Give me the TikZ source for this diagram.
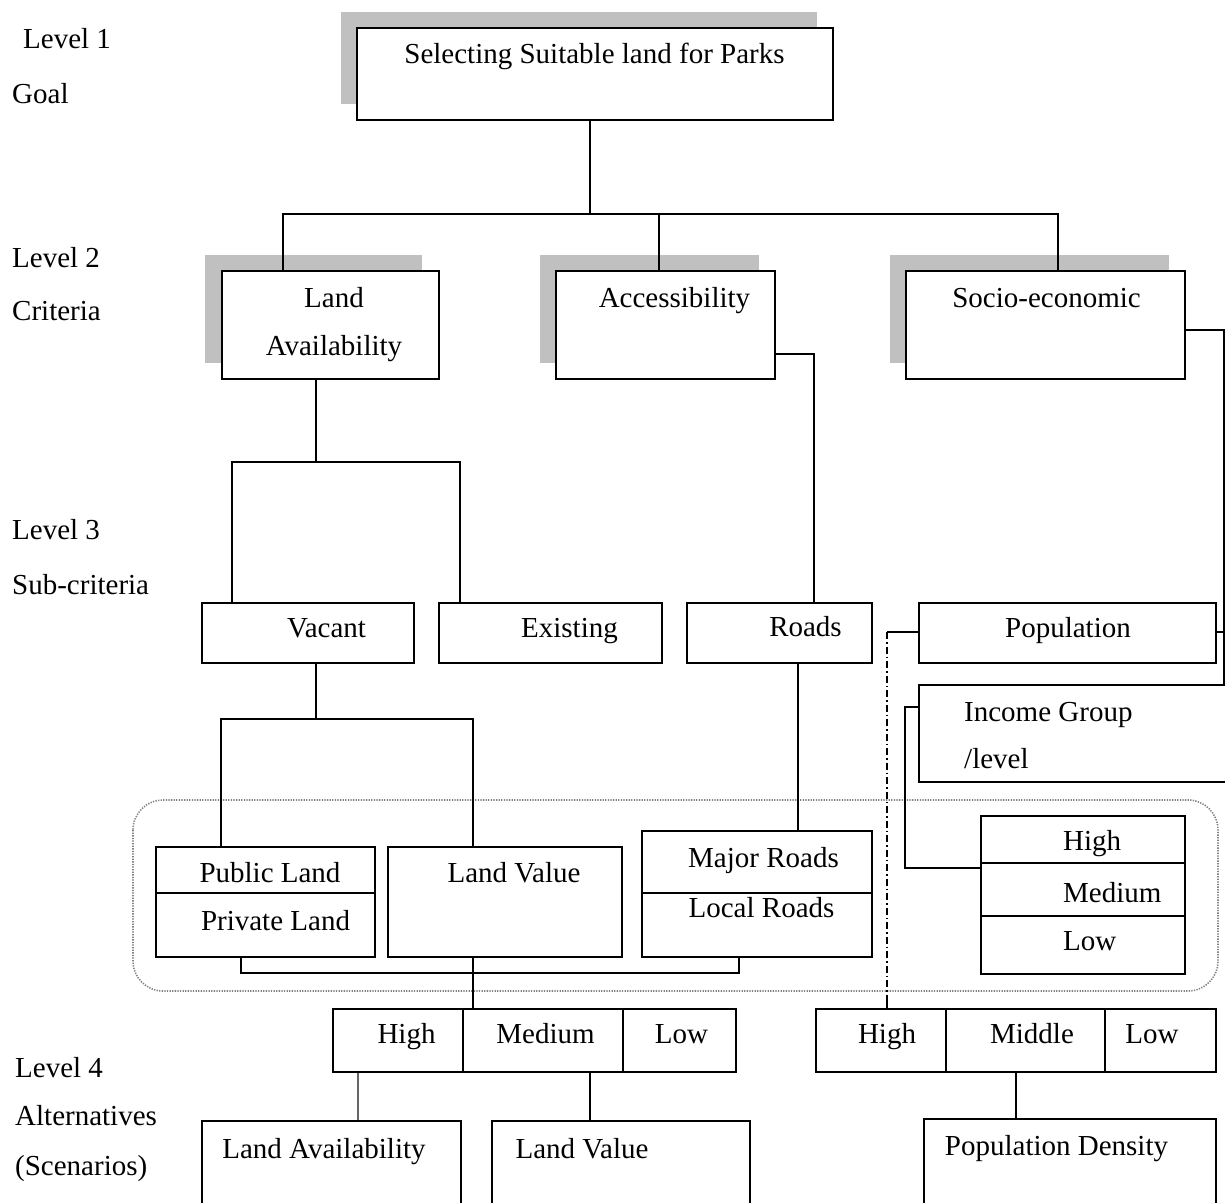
\documentclass[tikz,border=0pt]{standalone}
\usepackage{fontspec}
\setmainfont{Liberation Serif}
\definecolor{shadowgray}{RGB}{192,192,192}
\definecolor{dotgray}{RGB}{130,130,130}
\begin{document}
\begin{tikzpicture}[x=1pt,y=-1pt,
  box/.style={draw, line width=1.8pt, fill=white, inner sep=0pt, anchor=north west},
  txt/.style={font=\fontsize{29}{34}\selectfont, inner sep=0pt, anchor=base},
  ltxt/.style={font=\fontsize{29}{34}\selectfont, inner sep=0pt, anchor=base west},
  conn/.style={line width=1.8pt},
  shd/.style={fill=shadowgray}]
\useasboundingbox (0,0) rectangle (1225,1202);

% left level labels
\node[ltxt] (lv1) at (23,48) {Level 1};
\node[ltxt] (lg) at (12,103) {Goal};
\node[ltxt] (lv2) at (12,267) {Level 2};
\node[ltxt] (lc) at (12,320) {Criteria};
\node[ltxt] (lv3) at (12,539) {Level 3};
\node[ltxt] (lsc) at (12,594) {Sub-criteria};
\node[ltxt] (lv4) at (15,1077) {Level 4};
\node[ltxt] (lal) at (15,1125) {Alternatives};
\node[ltxt] (lsn) at (15,1175) {(Scenarios)};

% dotted group frame
\draw[dotgray, line width=1.6pt, dash pattern=on 1.3pt off 1.3pt, rounded corners=30pt] (133,800) rectangle (1218,991);

% shadows
\fill[shd] (341,12) rectangle ++(476,92);
\fill[shd] (205,255) rectangle ++(217,108);
\fill[shd] (540,255) rectangle ++(219,108);
\fill[shd] (890,255) rectangle ++(279,108);

% level 1 and 2 boxes
\node[box, minimum width=476pt, minimum height=92pt] (goal) at (356,27) {};
\node[box, minimum width=217pt, minimum height=108pt] (la) at (221,270) {};
\node[box, minimum width=219pt, minimum height=108pt] (acc) at (555,270) {};
\node[box, minimum width=279pt, minimum height=108pt] (se) at (905,270) {};

% level 3 boxes
\node[box, minimum width=212pt, minimum height=60pt] (vac) at (201,602) {};
\node[box, minimum width=223pt, minimum height=60pt] (ex) at (438,602) {};
\node[box, minimum width=185pt, minimum height=60pt] (roads) at (686,602) {};
\node[box, minimum width=297pt, minimum height=60pt] (pop) at (918,602) {};
\node[box, minimum width=330pt, minimum height=97pt] (ig) at (918,684) {};

% grouped boxes
\node[box, minimum width=219pt, minimum height=46pt] (pub) at (155,846) {};
\node[box, minimum width=219pt, minimum height=64pt] (priv) at (155,892) {};
\node[box, minimum width=234pt, minimum height=110pt] (lval) at (387,846) {};
\node[box, minimum width=230pt, minimum height=62pt] (major) at (641,830) {};
\node[box, minimum width=230pt, minimum height=64pt] (local) at (641,892) {};
\node[box, minimum width=204pt, minimum height=47pt] (ihigh) at (980,815) {};
\node[box, minimum width=204pt, minimum height=53pt] (imed) at (980,862) {};
\node[box, minimum width=204pt, minimum height=58pt] (ilow) at (980,915) {};

% level 4 boxes
\node[box, minimum width=130pt, minimum height=63pt] (lhigh) at (332,1008) {};
\node[box, minimum width=160pt, minimum height=63pt] (lmed) at (462,1008) {};
\node[box, minimum width=113pt, minimum height=63pt] (llow) at (622,1008) {};
\node[box, minimum width=130pt, minimum height=63pt] (rhigh) at (815,1008) {};
\node[box, minimum width=159pt, minimum height=63pt] (rmid) at (945,1008) {};
\node[box, minimum width=111pt, minimum height=63pt] (rlow) at (1104,1008) {};
\node[box, minimum width=259pt, minimum height=110pt] (bla) at (201,1120) {};
\node[box, minimum width=258pt, minimum height=110pt] (blv) at (491,1120) {};
\node[box, minimum width=292pt, minimum height=112pt] (bpd) at (923,1118) {};

% texts
\node[txt] (tgoal) at (594.5,63) {Selecting Suitable land for Parks};
\node[txt] (tla1) at (334,307) {Land};
\node[txt] (tla2) at (334,355) {Availability};
\node[txt] (tacc) at (674.5,307) {Accessibility};
\node[txt] (tse) at (1046.5,307) {Socio-economic};
\node[txt] (tvac) at (326.5,637) {Vacant};
\node[txt] (tex) at (569.5,637) {Existing};
\node[txt] (troads) at (805.5,636) {Roads};
\node[txt] (tpop) at (1068,637) {Population};
\node[ltxt] (tig1) at (964,721) {Income Group};
\node[ltxt] (tig2) at (964,768) {/level};
\node[ltxt] (tih) at (1063,850) {High};
\node[ltxt] (tim) at (1063,902) {Medium};
\node[ltxt] (til) at (1063,950) {Low};
\node[txt] (tpub) at (270,882) {Public Land};
\node[txt] (tpriv) at (275.5,930) {Private Land};
\node[txt] (tlval) at (514,882) {Land Value};
\node[txt] (tmaj) at (763.5,867) {Major Roads};
\node[txt] (tloc) at (761.5,917) {Local Roads};
\node[txt] (tlh) at (406.5,1043) {High};
\node[txt] (tlm) at (545.5,1043) {Medium};
\node[txt] (tll) at (681.5,1043) {Low};
\node[txt] (trh) at (887,1043) {High};
\node[txt] (trm) at (1032,1043) {Middle};
\node[txt] (trl) at (1152,1043) {Low};
\node[txt] (tbla) at (324,1158) {Land Availability};
\node[txt] (tblv) at (582,1158) {Land Value};
\node[txt] (tbpd) at (1056.5,1155) {Population Density};

% connectors
\draw[conn] (goal.south -| 590,0) -- (590,214);
\draw[conn] (la.north -| 283,0) -- (283,214) -- (1058,214) -- (se.north -| 1058,0);
\draw[conn] (acc.north -| 659,0) -- (659,214);
\draw[conn] (acc.east |- 0,354) -- (814,354) -- (roads.north -| 814,0);
\draw[conn] (se.east |- 0,330) -- (1224,330) -- (ig.north -| 1224,0);
\draw[conn] (pop.east |- 0,632) -- (1224,632);
\draw[conn] (pop.west |- 0,632) -- (887,632) coordinate (dd);
\draw[line width=1.3pt, dash pattern=on 7pt off 3pt on 1.5pt off 3pt] (dd) -- (887,997) coordinate (de);
\draw[line width=1.5pt] (de) -- (rhigh.north -| 887,0);
\draw[conn] (ig.west |- 0,707) -- (905,707) -- (905,868) -- (imed.west |- 0,868);
\draw[conn] (la.south -| 316,0) -- (316,462);
\draw[conn] (vac.north -| 232,0) -- (232,462) -- (460,462) -- (ex.north -| 460,0);
\draw[conn] (vac.south -| 316,0) -- (316,719);
\draw[conn] (pub.north -| 221,0) -- (221,719) -- (473,719) -- (lval.north -| 473,0);
\draw[conn] (roads.south -| 798,0) -- (major.north -| 798,0);
\draw[conn] (priv.south -| 241,0) -- (241,973) -- (739,973) -- (local.south -| 739,0);
\draw[conn] (lval.south -| 473,0) -- (lmed.north -| 473,0);
\draw[line width=1.8pt, black!60] (lhigh.south -| 358,0) -- (bla.north -| 358,0);
\draw[conn] (lmed.south -| 590,0) -- (blv.north -| 590,0);
\draw[conn] (rmid.south -| 1016,0) -- (bpd.north -| 1016,0);
\end{tikzpicture}
\end{document}
